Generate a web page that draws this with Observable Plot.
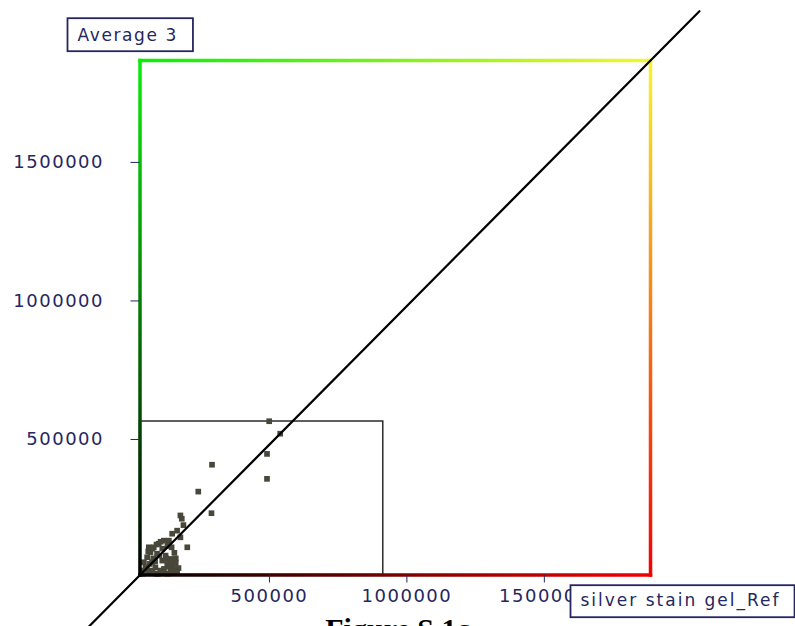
<!DOCTYPE html>
<html>
<head>
<meta charset="utf-8">
<script src="https://cdn.jsdelivr.net/npm/d3@7"></script>
<script src="https://cdn.jsdelivr.net/npm/@observablehq/plot@0.6"></script>
<style>
  body { margin: 0; background: #fff; width: 795px; overflow: hidden; }
  #chart svg { overflow: visible; display: block; }
  #caption { font-family: "Liberation Serif", "Times New Roman", serif; font-weight: bold;
             font-size: 30px; line-height: 34px; text-align: center; width: 795px; color: #000; }
  g[aria-label="x-axis tick label"] text, g[aria-label="y-axis tick label"] text { letter-spacing: 1.5px; }
  .ybox { letter-spacing: 1.6px; }
  .xbox { letter-spacing: 2px; }
</style>
</head>
<body>
<div id="chart"></div>
<div id="caption">Figure S.1c</div>
<script>
// ---- data ----
const xLabel = "silver stain gel_Ref";
const yLabel = "Average 3";
const axisMax = 1857000;
const xTicks = [500000, 1000000, 1500000];
const yTicks = [500000, 1000000, 1500000];
const refValues = [470000, 510000, 462000, 462000, 262000, 212000, 260000, 147000, 152000, 158000,
                   172000, 147000, 135000, 117000, 105000, 87000, 68000, 105000, 50000, 81000,
                   38000, 62000, 93000, 26000, 111000, 81000, 122000, 14000, 44000, 99000,
                   117000, 20000, 56000, 87000, 8000, 38000, 74000, 111000, 120000, 60000,
                   30000, 100000, 10000, 130000, 32000, 48000,
                   30000, 45000, 60000, 75000, 100000, 115000, 125000, 130000, 128000, 125000,
                   105000, 95000, 70000, 55000, 35000, 25000, 45000, 65000, 85000, 110000,
                   140000, 135000];
const avgValues = [555000, 510000, 437000, 347000, 398000, 301000, 223000, 215000, 203000, 180000,
                   100000, 136000, 160000, 149000, 124000, 124000, 113000, 113000, 100000, 95000,
                   82000, 77000, 70000, 64000, 58000, 52000, 52000, 46000, 46000, 40000,
                   34000, 28000, 28000, 22000, 16000, 16000, 16000, 19000, 8000, 5000,
                   8000, 5000, 5000, 45000, 100000, 60000,
                   85000, 95000, 110000, 120000, 105000, 100000, 80000, 60000, 40000, 20000,
                   30000, 60000, 70000, 50000, 40000, 20000, 15000, 5000, 10000, 45000,
                   25000, 10000];
const zoomBoxX = [0, 885000];
const zoomBoxY = [0, 554000];
const diagonal = [-200000, 2035000];

const cBlack = "#000000", cGreen = "#08ee08", cRed = "#f50000", cYellow = "#f6f62e";
const textColor = "#262660";

// ---- tables built from the arrays ----
const points = refValues.map((v, i) => ({ref: v, avg: avgValues[i]}));
const zoomBox = [{x1: zoomBoxX[0], x2: zoomBoxX[1], y1: zoomBoxY[0], y2: zoomBoxY[1]}];
const diagLine = diagonal.map(v => ({v}));
const edgeLeft   = [{x1: 0, y1: 0, x2: 0, y2: axisMax}];
const edgeBottom = [{x1: 0, y1: 0, x2: axisMax, y2: 0}];
const edgeTop    = [{x1: 0, y1: axisMax, x2: axisMax, y2: axisMax}];
const edgeRight  = [{x1: axisMax, y1: 0, x2: axisMax, y2: axisMax}];

function gradientDefs(index, scales) {
  const {x, y} = scales;
  const x0 = x(0), x1 = x(axisMax), y0 = y(0), y1 = y(axisMax);
  const defs = d3.create("svg:defs");
  const grad = (id, ax, ay, bx, by, c0, c1) => {
    const g = defs.append("linearGradient").attr("id", id).attr("gradientUnits", "userSpaceOnUse")
      .attr("x1", ax).attr("y1", ay).attr("x2", bx).attr("y2", by);
    g.append("stop").attr("offset", 0).attr("stop-color", c0);
    g.append("stop").attr("offset", 1).attr("stop-color", c1);
  };
  grad("gLeft", x0, y0, x0, y1, cBlack, cGreen);
  grad("gBottom", x0, y0, x1, y0, cBlack, cRed);
  grad("gTop", x0, y1, x1, y1, cGreen, cYellow);
  grad("gRight", x1, y0, x1, y1, cRed, cYellow);
  return defs.node();
}

const edgeOpts = (url) => ({x1: "x1", y1: "y1", x2: "x2", y2: "y2", stroke: url, strokeWidth: 3.5, strokeLinecap: "square"});

const chart = Plot.plot({
  width: 795,
  height: 612,
  marginLeft: 139.5,
  marginRight: 145,
  marginTop: 60,
  marginBottom: 37.5,
  x: {domain: [0, axisMax]},
  y: {domain: [0, axisMax]},
  style: {background: "white", overflow: "visible", fontFamily: "'DejaVu Sans', Verdana, sans-serif"},
  marks: [
    gradientDefs,
    Plot.rect(zoomBox, {x1: "x1", x2: "x2", y1: "y1", y2: "y2", fill: "none", stroke: "#1c1c1c", strokeWidth: 1.4}),
    Plot.dot(points, {x: "ref", y: "avg", symbol: "square", r: 3.2, fill: "#48473a", stroke: "none"}),
    Plot.link(edgeLeft, edgeOpts("url(#gLeft)")),
    Plot.link(edgeBottom, edgeOpts("url(#gBottom)")),
    Plot.link(edgeTop, edgeOpts("url(#gTop)")),
    Plot.link(edgeRight, edgeOpts("url(#gRight)")),
    Plot.line(diagLine, {x: "v", y: "v", stroke: "#000", strokeWidth: 2.2}),
    Plot.axisX({ticks: xTicks, tickSize: 8, tickPadding: 6, tickFormat: d3.format("d"), label: null,
                fontSize: 18, dx: -8, color: textColor}),
    Plot.axisY({ticks: yTicks, tickSize: 9, tickPadding: 27, tickFormat: d3.format("d"), label: null,
                fontSize: 18, dy: 3, color: textColor}),
    Plot.text([yLabel], {text: d => d, frameAnchor: "top-left", textAnchor: "start", lineAnchor: "bottom",
                dx: -62.5, dy: -19.3, fontSize: 17, fill: textColor}),
    Plot.text([xLabel], {text: d => d, frameAnchor: "bottom-right", textAnchor: "start", lineAnchor: "bottom",
                dx: -70, dy: 31.2, fontSize: 17, fill: textColor})
  ]
});

document.getElementById("chart").append(chart);

// draw a box behind each boxed axis label
const labelBoxes = [
  {cls: "ybox", str: yLabel, padL: 10, padR: 15, padT: 7, padB: 6},
  {cls: "xbox", str: xLabel, padL: 10, padR: 14, padT: 5, padB: 6}
];
for (const {cls, str, padL, padR, padT, padB} of labelBoxes) {
  const t = Array.from(chart.querySelectorAll("text")).find(el => el.textContent === str);
  if (!t) continue;
  t.classList.add(cls);
  const bb = t.getBBox();
  const r = document.createElementNS("http://www.w3.org/2000/svg", "rect");
  r.setAttribute("x", bb.x - padL);
  r.setAttribute("y", bb.y - padT);
  r.setAttribute("width", bb.width + padL + padR);
  r.setAttribute("height", bb.height + padT + padB);
  r.setAttribute("fill", "white");
  r.setAttribute("stroke", textColor);
  r.setAttribute("stroke-width", 1.8);
  if (t.getAttribute("transform")) r.setAttribute("transform", t.getAttribute("transform"));
  t.parentNode.insertBefore(r, t);
}
</script>
</body>
</html>
